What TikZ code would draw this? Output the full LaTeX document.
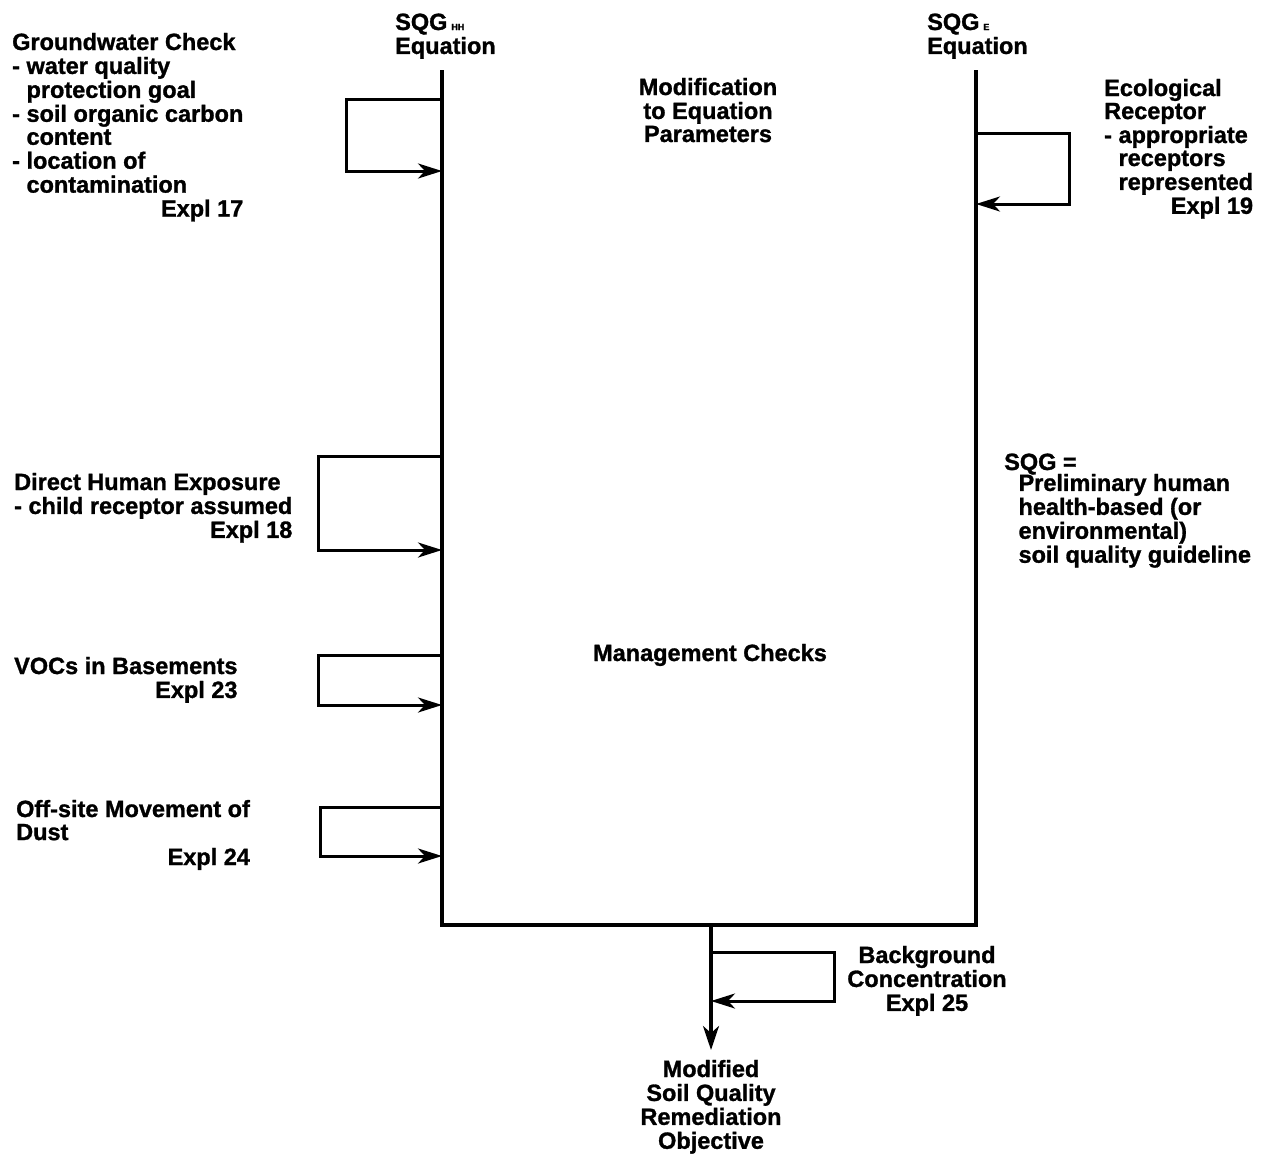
\documentclass[tikz,border=0pt]{standalone}
\usepackage{fontspec}
\setmainfont{Liberation Sans}[BoldFeatures={FakeBold=1.2}]
\usetikzlibrary{arrows.meta}
\newcommand{\ind}{\phantom{- }}
\newcommand{\subsz}[1]{{\fontsize{9}{9}\selectfont #1}}
\begin{document}
\begin{tikzpicture}[x=1pt,y=-1pt,
  txt/.style={inner sep=0pt,font=\fontsize{23.5}{23}\selectfont\bfseries},
  flow/.style={line width=3.2pt,line join=miter},
  fbloop/.style={line width=3pt,-{Stealth[length=24pt,width=15pt,inset=7pt]}}]
\useasboundingbox (0,0) rectangle (1263,1154);
% text blocks
\node[txt,anchor=base west] (sqghh) at (395,30) {\begin{tabular}[t]{@{}l@{}}SQG\,\subsz{HH}\\Equation\end{tabular}};
\node[txt,anchor=base west] (sqge) at (927,30) {\begin{tabular}[t]{@{}l@{}}SQG\,\subsz{E}\\Equation\end{tabular}};
\node[txt,anchor=base west] (gw) at (12,50) {\begin{tabular}[t]{@{}l@{}}Groundwater Check\\- water quality\\\ind protection goal\\- soil organic carbon\\\ind content\\- location of\\\ind contamination\\\multicolumn{1}{@{}r@{}}{Expl 17}\end{tabular}};
\node[txt,anchor=base] (mod) at (708,95) {\begin{tabular}[t]{@{}c@{}}Modification\\to Equation\\Parameters\end{tabular}};
\node[txt,anchor=base west] (eco) at (1104,96) {\begin{tabular}[t]{@{}l@{}}Ecological\\Receptor\\- appropriate\\\ind receptors\\\ind represented\\\multicolumn{1}{@{}r@{}}{Expl 19}\end{tabular}};
\node[txt,anchor=base west] (dhe) at (14,490) {\begin{tabular}[t]{@{}l@{}}Direct Human Exposure\\- child receptor assumed\\\multicolumn{1}{@{}r@{}}{Expl 18}\end{tabular}};
\node[txt,anchor=base west] (sqgdef) at (1004,470) {\begin{tabular}[t]{@{}l@{}}SQG =\\[-3pt]\ind Preliminary human\\\ind health-based (or\\\ind environmental)\\\ind soil quality guideline\end{tabular}};
\node[txt,anchor=base] (mgmt) at (710,661) {Management Checks};
\node[txt,anchor=base west] (voc) at (14,674) {\begin{tabular}[t]{@{}l@{}}VOCs in Basements\\\multicolumn{1}{@{}r@{}}{Expl 23}\end{tabular}};
\node[txt,anchor=base west] (dust) at (16,817) {\begin{tabular}[t]{@{}l@{}}Off-site Movement of\\Dust\\[1pt]\multicolumn{1}{@{}r@{}}{Expl 24}\end{tabular}};
\node[txt,anchor=base] (bg) at (927,963) {\begin{tabular}[t]{@{}c@{}}Background\\Concentration\\Expl 25\end{tabular}};
\node[txt,anchor=base] (out) at (711,1077) {\begin{tabular}[t]{@{}c@{}}Modified\\Soil Quality\\Remediation\\Objective\end{tabular}};
% main frame
\coordinate (ltop) at (442,70);
\coordinate (lbot) at (442,925);
\coordinate (rbot) at (976,925);
\coordinate (rtop) at (976,70);
\coordinate (mid) at (711,925);
\coordinate (tip) at (711,1050);
\draw[flow] (ltop) -- (lbot) -- (rbot) -- (rtop);
\draw[flow,-{Stealth[length=24pt,width=16pt,inset=7pt]}] (mid) -- (tip);
% loops on the left
\coordinate (gwA) at (442,99);  \coordinate (gwB) at (442,171);
\coordinate (dhA) at (442,456); \coordinate (dhB) at (442,550);
\coordinate (vcA) at (442,655); \coordinate (vcB) at (442,705);
\coordinate (dsA) at (442,807); \coordinate (dsB) at (442,856);
\draw[fbloop] (gwA) -- (346,99) -- (346,171) -- (gwB);
\draw[fbloop] (dhA) -- (318,456) -- (318,550) -- (dhB);
\draw[fbloop] (vcA) -- (318,655) -- (318,705) -- (vcB);
\draw[fbloop] (dsA) -- (320,807) -- (320,856) -- (dsB);
% loop on the right
\coordinate (ecA) at (976,133); \coordinate (ecB) at (976,204);
\draw[fbloop] (ecA) -- (1069,133) -- (1069,204) -- (ecB);
% loop at the bottom
\coordinate (bgA) at (711,952); \coordinate (bgB) at (711,1001);
\draw[fbloop] (bgA) -- (834,952) -- (834,1001) -- (bgB);
\end{tikzpicture}
\end{document}
